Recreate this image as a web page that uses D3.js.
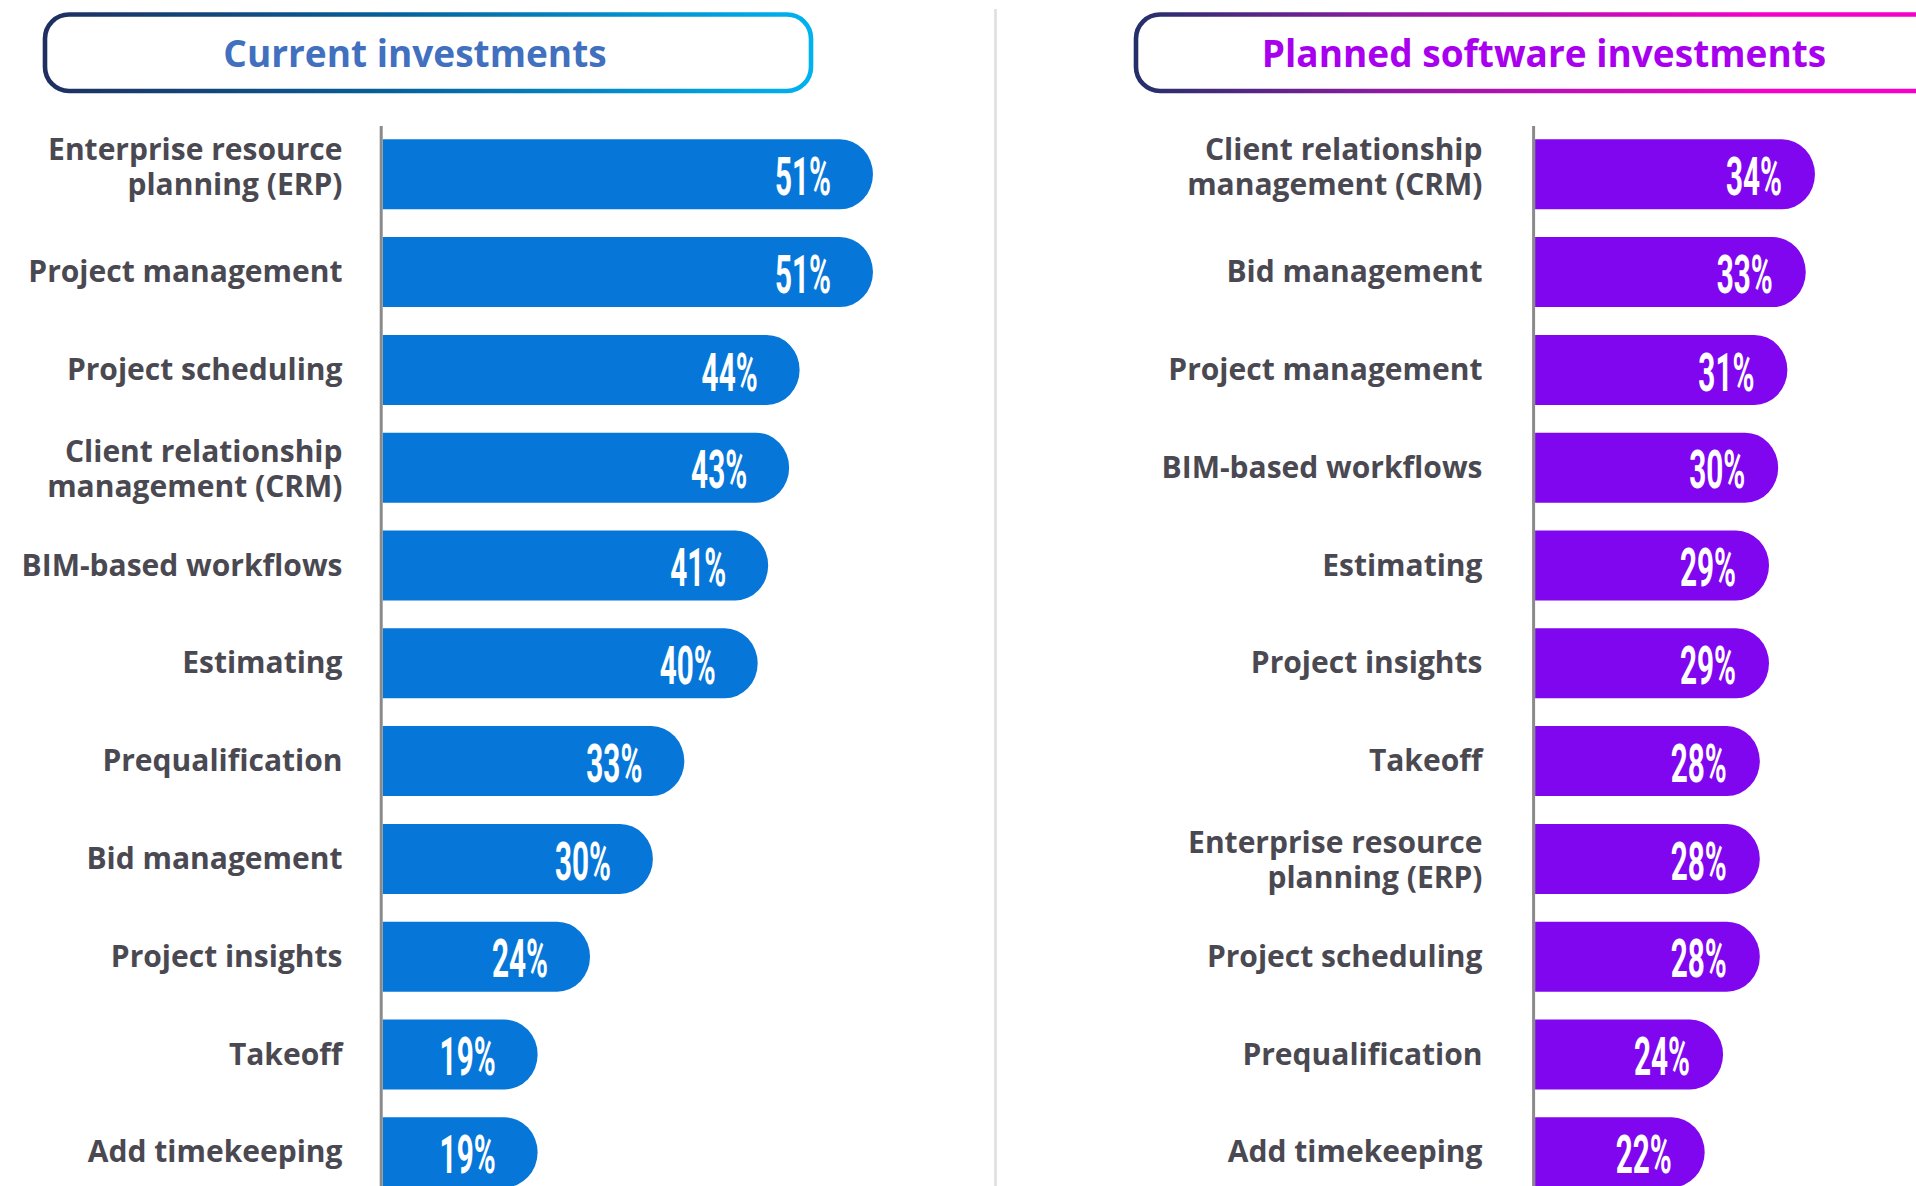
<!DOCTYPE html>
<html>
<head>
<meta charset="utf-8">
<script src="https://cdn.jsdelivr.net/npm/d3@7/dist/d3.min.js"></script>
<style>
  html, body { margin: 0; padding: 0; background: #ffffff; }
  svg { display: block; }
</style>
</head>
<body>
<svg id="chart" width="1916" height="1186"></svg>
<script>
// ---- data ----
const currentTitle = "Current investments";
const plannedTitle = "Planned software investments";

const currentCategories = [
  "Enterprise resource\nplanning (ERP)",
  "Project management",
  "Project scheduling",
  "Client relationship\nmanagement (CRM)",
  "BIM-based workflows",
  "Estimating",
  "Prequalification",
  "Bid management",
  "Project insights",
  "Takeoff",
  "Add timekeeping"
];
const currentValues = [51, 51, 44, 43, 41, 40, 33, 30, 24, 19, 19];

const plannedCategories = [
  "Client relationship\nmanagement (CRM)",
  "Bid management",
  "Project management",
  "BIM-based workflows",
  "Estimating",
  "Project insights",
  "Takeoff",
  "Enterprise resource\nplanning (ERP)",
  "Project scheduling",
  "Prequalification",
  "Add timekeeping"
];
const plannedValues = [34, 33, 31, 30, 29, 29, 28, 28, 28, 24, 22];

// ---- drawing ----
const svg = d3.select("#chart");
const W = 1916, H = 1186;
svg.append("rect").attr("width", W).attr("height", H).attr("fill", "#ffffff");

const defs = svg.append("defs");
function gradient(id, x1, x2, stops) {
  const g = defs.append("linearGradient")
    .attr("id", id).attr("gradientUnits", "userSpaceOnUse")
    .attr("x1", x1).attr("x2", x2).attr("y1", 0).attr("y2", 0);
  stops.forEach(([o, c]) => g.append("stop").attr("offset", o).attr("stop-color", c));
}
gradient("gradCurrent", 45, 811, [[0, "#1e2f60"], [0.45, "#05609a"], [1, "#00b2f0"]]);
gradient("gradPlanned", 1136, 1760, [[0, "#24306a"], [0.4, "#8e1aa2"], [1, "#f500c8"]]);

// shared row layout
const y = d3.scaleBand()
  .domain(d3.range(11))
  .range([125.4, 1201.2])
  .paddingInner(0.284)
  .paddingOuter(0.142);

// divider between the two panels
svg.append("line")
  .attr("x1", 995.5).attr("x2", 995.5).attr("y1", 9).attr("y2", H)
  .attr("stroke", "#e0e0e0").attr("stroke-width", 2.7);

function barPath(x0, x1, y0, h) {
  const ry = h / 2, rx = Math.min(33, x1 - x0);
  return `M${x0},${y0}H${x1 - rx}A${rx},${ry} 0 0 1 ${x1},${y0 + ry}` +
         `A${rx},${ry} 0 0 1 ${x1 - rx},${y0 + h}H${x0}Z`;
}

function panel(cfg) {
  const g = svg.append("g");

  // header box
  g.append("rect")
    .attr("x", cfg.boxX0).attr("y", 14.5)
    .attr("width", cfg.boxX1 - cfg.boxX0).attr("height", 76.5)
    .attr("rx", 24).attr("ry", 24)
    .attr("fill", "none")
    .attr("stroke", `url(#${cfg.grad})`)
    .attr("stroke-width", 4.6);
  g.append("text")
    .attr("x", cfg.titleX).attr("y", 67)
    .attr("text-anchor", "middle")
    .attr("font-family", "'Open Sans', sans-serif")
    .attr("font-weight", 700)
    .attr("font-size", 37)
    .attr("fill", cfg.titleColor)
    .text(cfg.title);

  // bars
  const x = cfg.x;
  g.selectAll("path.bar")
    .data(cfg.values)
    .join("path")
    .attr("class", "bar")
    .attr("d", (v, i) => barPath(cfg.axisX + 1.5, x(v), y(i), y.bandwidth()))
    .attr("fill", cfg.barColor);

  // axis line
  g.append("line")
    .attr("x1", cfg.axisX).attr("x2", cfg.axisX)
    .attr("y1", 126).attr("y2", H)
    .attr("stroke", "#8a8a8a").attr("stroke-width", 3);

  // category labels, one text element per line;
  // the top row's two-line label sits a little higher to clear the header
  const lines = [];
  cfg.categories.forEach((label, i) => {
    const parts = label.split("\n");
    const cy = y(i) + y.bandwidth() / 2;
    let first;
    if (parts.length === 1) first = cy + 10;
    else first = i === 0 ? cy - 14.3 : cy - 5.7;
    parts.forEach((t, k) => lines.push({ t, yy: first + k * 34.5 }));
  });
  g.selectAll("text.cat")
    .data(lines)
    .join("text")
    .attr("class", "cat")
    .attr("x", cfg.labelX)
    .attr("y", d => d.yy)
    .attr("text-anchor", "end")
    .attr("font-family", "'Open Sans', sans-serif")
    .attr("font-weight", 700)
    .attr("font-size", 30)
    .attr("fill", "#4a4952")
    .text(d => d.t);

  // value labels in a tall, condensed face
  g.selectAll("g.val")
    .data(cfg.values)
    .join("g")
    .attr("class", "val")
    .attr("transform", (v, i) =>
      `translate(${x(v) - cfg.valueInset},${y(i) + y.bandwidth() / 2 + 20.7}) scale(0.55,1)`)
    .append("text")
    .attr("text-anchor", "end")
    .attr("font-family", "Roboto, sans-serif")
    .attr("font-weight", 700)
    .attr("font-size", 54)
    .attr("fill", "#ffffff")
    .text(v => v + "%");
}

panel({
  title: currentTitle,
  categories: currentCategories,
  values: currentValues,
  grad: "gradCurrent",
  boxX0: 45, boxX1: 811, titleX: 415,
  titleColor: "#4170bf",
  barColor: "#0677d9",
  axisX: 381.2,
  labelX: 342.5,
  x: d3.scaleLinear().domain([0, 100]).range([338.5, 338.5 + 1048]),
  valueInset: 42
});

panel({
  title: plannedTitle,
  categories: plannedCategories,
  values: plannedValues,
  grad: "gradPlanned",
  boxX0: 1136, boxX1: 1990, titleX: 1544,
  titleColor: "#a800ef",
  barColor: "#7f06ef",
  axisX: 1533.6,
  labelX: 1482.5,
  x: d3.scaleLinear().domain([0, 100]).range([1502.5, 1502.5 + 919]),
  valueInset: 33
});
</script>
</body>
</html>
